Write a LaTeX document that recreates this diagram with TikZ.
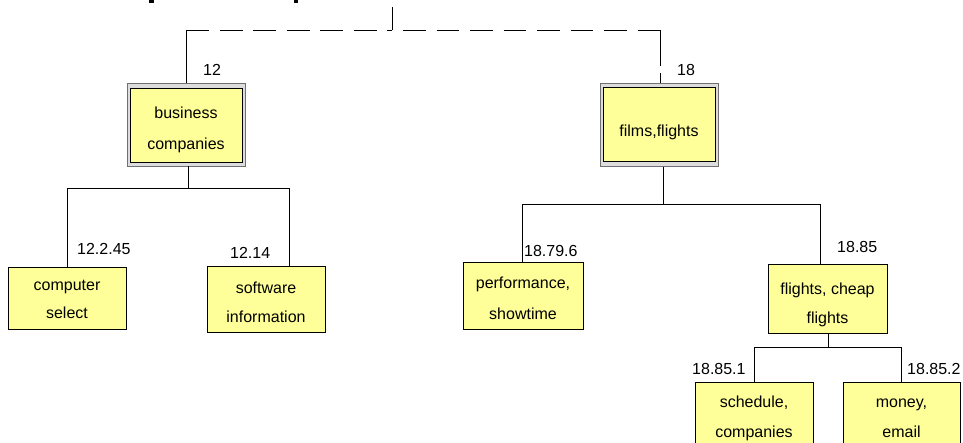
\documentclass[tikz,border=0pt]{standalone}
\usepackage{fontspec}
\setmainfont{Liberation Sans}
\definecolor{boxyellow}{HTML}{FFFF99}
\definecolor{framegray}{HTML}{DDDDDD}
\definecolor{frameedge}{HTML}{707070}
\begin{document}
\begin{tikzpicture}[x=1pt,y=-1pt,
  every node/.style={font=\fontsize{16}{29}\selectfont, text=black},
  leaf/.style={draw=black, fill=boxyellow, line width=0.9pt, align=center, inner sep=0pt, minimum width=118pt, minimum height=62pt},
  outerframe/.style={draw=frameedge, fill=framegray, line width=0.9pt, inner sep=0pt, minimum width=118pt, minimum height=83pt},
  innerbox/.style={draw=black, fill=boxyellow, line width=0.9pt, align=center, inner sep=0pt, minimum width=112pt, minimum height=74pt},
  numlabel/.style={anchor=west, inner sep=0pt},
  conn/.style={draw=black, line width=0.8pt}
]
\useasboundingbox (0,0) rectangle (963,442);
\clip (0,0) rectangle (963,442);
\fill[white] (0,0) rectangle (963,442);

% cut-off title descenders at the top edge
\fill[black] (149,0) rectangle (153.5,2.5);
\fill[black] (293.5,0) rectangle (298,2.5);

% upper level boxes (double frame)
\node[outerframe] (bc) at (186,124.5) {};
\node[innerbox, font=\fontsize{16}{31}\selectfont, text height=59pt, text depth=10pt] (bci) at (186,125) {business\\companies};
\node[outerframe] (ff) at (659,125) {};
\node[innerbox, text height=32pt, text depth=8pt] (ffi) at (659,124.5) {films,flights};

% leaves
\node[leaf, font=\fontsize{16}{28}\selectfont, text height=51pt, text depth=10pt] (cs) at (67,298) {computer\\select};
\node[leaf, minimum height=63pt, text height=56pt, text depth=10pt] (sw) at (266,299.5) {software\\information};
\node[leaf, minimum width=120pt, font=\fontsize{16}{31}\selectfont, text height=57pt, text depth=10pt] (pf) at (523,296) {performance,\\showtime};
\node[leaf, minimum width=119pt, text height=59pt, text depth=10pt] (fc) at (827.5,299) {flights, cheap\\flights};
\node[leaf, minimum height=72pt, font=\fontsize{16}{30}\selectfont, text height=49pt, text depth=10pt] (sc) at (754,418) {schedule,\\companies};
\node[leaf, minimum width=117pt, minimum height=72pt, font=\fontsize{16}{30}\selectfont, text height=49pt, text depth=10pt] (me) at (901.5,418) {money,\\email};

% number labels
\node[numlabel] (l12) at (203,70) {12};
\node[numlabel] (l18) at (677,70) {18};
\node[numlabel] (l12245) at (77,249) {12.2.45};
\node[numlabel] (l1214) at (230,253) {12.14};
\node[numlabel] (l18796) at (524,251) {18.79.6};
\node[numlabel] (l1885) at (837,247) {18.85};
\node[numlabel] (l18851) at (692,369) {18.85.1};
\node[numlabel] (l18852) at (907,369) {18.85.2};

% top connectors
\coordinate (top) at (392,7);
\coordinate (mid) at (392,30);
\coordinate (lc) at (186,30);
\coordinate (rc) at (660,30);
\draw[conn] (top) -- (mid);
\draw[conn] (bc.north) -- (lc);
\draw[conn, dash pattern=on 23pt off 10.5pt] (lc) -- (mid);
\draw[conn, dash pattern=on 22.5pt off 11pt, dash phase=22.5pt] (mid) -- (rc);
\draw[conn, dash pattern=on 36pt off 7pt] (rc) -- (ff.north -| rc);

% business companies children
\coordinate (j1) at (188,188);
\draw[conn] ([xshift=2pt]bc.south) -- (j1);
\draw[conn] (cs.north) |- (j1);
\draw[conn] ([xshift=23pt]sw.north) |- (j1);

% films,flights children
\coordinate (j2) at (663,204);
\draw[conn] ([xshift=4pt]ff.south) -- (j2);
\draw[conn] ([xshift=-1pt]pf.north) |- (j2);
\draw[conn] ([xshift=-7.5pt]fc.north) |- (j2);

% flights, cheap flights children
\coordinate (j3) at (828,347);
\draw[conn] ([xshift=0.5pt]fc.south) -- (j3);
\draw[conn] (sc.north) |- (j3);
\draw[conn] (me.north) |- (j3);
\end{tikzpicture}
\end{document}
